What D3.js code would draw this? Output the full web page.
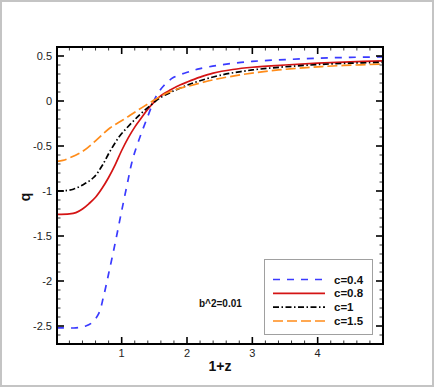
<!DOCTYPE html>
<html>
<head>
<meta charset="utf-8">
<script src="https://cdn.jsdelivr.net/npm/d3@7"></script>
<style>
  body { margin: 0; background: #fff; }
  svg { font-family: "Liberation Sans", Arial, sans-serif; }
  .tick-label { font-size: 11px; fill: #222; }
  .title { font-size: 14px; font-weight: bold; fill: #111; }
  .legend text { font-size: 11.5px; font-weight: bold; fill: #111; }
</style>
</head>
<body>
<script>
  // c = 0.4
  let blueX = [0.01, 0.3, 0.45, 0.55, 0.65, 0.72, 0.8, 0.9, 1.0, 1.1, 1.15, 1.2, 1.3, 1.4, 1.48, 1.55, 1.64, 1.79, 2.05, 2.2, 2.5, 3.0, 3.5, 4.0, 4.5, 5.0];
  let blueQ = [-2.52, -2.52, -2.5, -2.46, -2.36, -2.18, -1.92, -1.58, -1.22, -0.87, -0.7, -0.57, -0.36, -0.17, -0.02, 0.08, 0.167, 0.26, 0.33, 0.36, 0.40, 0.44, 0.46, 0.475, 0.485, 0.49];
  // c = 0.8
  let redX = [0.01, 0.2, 0.3, 0.4, 0.5, 0.6, 0.7, 0.8, 0.9, 1.0, 1.1, 1.2, 1.3, 1.4, 1.5, 1.6, 1.75, 1.9, 2.0, 2.2, 2.4, 2.7, 3.0, 3.5, 4.0, 4.5, 5.0];
  let redQ = [-1.26, -1.255, -1.24, -1.2, -1.14, -1.07, -0.97, -0.85, -0.71, -0.55, -0.41, -0.29, -0.19, -0.09, -0.01, 0.06, 0.125, 0.18, 0.21, 0.265, 0.31, 0.35, 0.375, 0.40, 0.42, 0.435, 0.445];
  // c = 1
  let blackX = [0.01, 0.15, 0.26, 0.41, 0.57, 0.7, 0.82, 0.97, 1.13, 1.28, 1.43, 1.59, 1.79, 2.0, 2.2, 2.5, 3.0, 3.5, 4.0, 4.5, 5.0];
  let blackQ = [-1.0, -0.995, -0.98, -0.93, -0.85, -0.72, -0.56, -0.39, -0.26, -0.15, -0.055, 0.035, 0.11, 0.175, 0.225, 0.285, 0.345, 0.38, 0.405, 0.42, 0.43];
  // c = 1.5
  let orangeX = [0.01, 0.1, 0.21, 0.41, 0.62, 0.82, 1.03, 1.23, 1.43, 1.64, 1.84, 2.05, 2.4, 2.9, 3.4, 3.9, 4.4, 5.0];
  let orangeQ = [-0.67, -0.66, -0.63, -0.556, -0.43, -0.30, -0.205, -0.11, -0.02, 0.07, 0.13, 0.17, 0.235, 0.30, 0.345, 0.375, 0.395, 0.41];

  let xTicks = [1, 2, 3, 4];
  let yTicks = [0.5, 0, -0.5, -1, -1.5, -2, -2.5];
  let yTickLabels = ['0.5', '0', '-0.5', '-1', '-1.5', '-2', '-2.5'];
  let seriesNames = ['c=0.4', 'c=0.8', 'c=1', 'c=1.5'];

  let series = [
    { name: seriesNames[0], xs: blueX, qs: blueQ, color: '#3a3aff', dash: '7,7', width: 1.7 },
    { name: seriesNames[1], xs: redX, qs: redQ, color: '#d41414', dash: null, width: 1.7 },
    { name: seriesNames[2], xs: blackX, qs: blackQ, color: '#000', dash: '6,2.5,1.5,2.5', width: 1.7 },
    { name: seriesNames[3], xs: orangeX, qs: orangeQ, color: '#ff8c1a', dash: '10,4', width: 1.7 }
  ];

  let margin = { top: 47, right: 53, bottom: 44, left: 57 };
  let W = 436, H = 388;
  let width = W - margin.left - margin.right;
  let height = H - margin.top - margin.bottom;

  let svg = d3.select('body').append('svg')
    .attr('width', W)
    .attr('height', H);

  // outer frame
  svg.append('rect')
    .attr('x', 1).attr('y', 1)
    .attr('width', 432).attr('height', 385)
    .attr('fill', 'none')
    .attr('stroke', '#c4c4c4')
    .attr('stroke-width', 2);

  let g = svg.append('g')
    .attr('transform', 'translate(' + margin.left + ',' + margin.top + ')');

  let x = d3.scaleLinear().domain([0.01, 5]).range([0, width]);
  let y = d3.scaleLinear().domain([-2.7, 0.6]).range([height, 0]);

  g.append('clipPath').attr('id', 'clip')
    .append('rect').attr('width', width).attr('height', height);

  let line = d3.line()
    .x(function(d) { return x(d[0]); })
    .y(function(d) { return y(d[1]); })
    .curve(d3.curveCatmullRom);

  let lines = g.append('g').attr('clip-path', 'url(#clip)');
  series.forEach(function(s) {
    let pts = s.xs.map(function(v, i) { return [v, s.qs[i]]; });
    lines.append('path')
      .datum(pts)
      .attr('fill', 'none')
      .attr('stroke', s.color)
      .attr('stroke-width', s.width)
      .attr('stroke-dasharray', s.dash)
      .attr('d', line);
  });

  // ticks on all four sides, pointing inward
  let majorLen = 7, minorLen = 3.5;
  let xMinor = d3.range(0.2, 5, 0.2).filter(function(v) {
    return Math.abs(v - Math.round(v)) > 1e-6;
  });
  let yMinor = d3.range(-2.7, 0.6, 0.1).map(function(v) { return Math.round(v * 10) / 10; })
    .filter(function(v) { return Math.abs(v * 2 - Math.round(v * 2)) > 1e-6; });

  let tickG = g.append('g').attr('stroke', '#000');

  function xTick(v, len, sw) {
    tickG.append('line').attr('x1', x(v)).attr('x2', x(v))
      .attr('y1', height).attr('y2', height - len).attr('stroke-width', sw);
    tickG.append('line').attr('x1', x(v)).attr('x2', x(v))
      .attr('y1', 0).attr('y2', len).attr('stroke-width', sw);
  }
  function yTick(v, len, sw) {
    tickG.append('line').attr('y1', y(v)).attr('y2', y(v))
      .attr('x1', 0).attr('x2', len).attr('stroke-width', sw);
    tickG.append('line').attr('y1', y(v)).attr('y2', y(v))
      .attr('x1', width).attr('x2', width - len).attr('stroke-width', sw);
  }
  xMinor.forEach(function(v) { xTick(v, minorLen, 0.8); });
  yMinor.forEach(function(v) { yTick(v, minorLen, 0.8); });
  xTicks.forEach(function(v) { xTick(v, majorLen, 1.6); });
  yTicks.forEach(function(v) { yTick(v, majorLen, 1.6); });

  g.append('rect')
    .attr('width', width).attr('height', height)
    .attr('fill', 'none')
    .attr('stroke', '#000')
    .attr('stroke-width', 2);

  // tick labels
  g.selectAll('.xl').data(xTicks).enter().append('text')
    .attr('class', 'tick-label')
    .attr('x', function(d) { return x(d); })
    .attr('y', height + 13)
    .attr('text-anchor', 'middle')
    .text(function(d) { return d; });

  g.selectAll('.yl').data(yTicks).enter().append('text')
    .attr('class', 'tick-label')
    .attr('x', -5)
    .attr('y', function(d) { return y(d) + 4; })
    .attr('text-anchor', 'end')
    .text(function(d, i) { return yTickLabels[i]; });

  // axis titles
  svg.append('text').attr('class', 'title')
    .attr('x', 220).attr('y', 371)
    .attr('text-anchor', 'middle')
    .text('1+z');

  svg.append('text').attr('class', 'title')
    .attr('transform', 'translate(30,197) rotate(-90)')
    .attr('text-anchor', 'middle')
    .text('q');

  // annotation
  svg.append('text')
    .attr('x', 199).attr('y', 307)
    .attr('font-size', '10px').attr('font-weight', 'bold').attr('fill', '#111')
    .text('b^2=0.01');

  // legend
  let legend = svg.append('g').attr('class', 'legend');
  legend.append('rect')
    .attr('x', 264.5).attr('y', 259.5)
    .attr('width', 108).attr('height', 75)
    .attr('fill', '#fff')
    .attr('stroke', '#a0a0a0')
    .attr('stroke-width', 1);

  let rowY = d3.scalePoint().domain(seriesNames).range([279.5, 321]);
  series.forEach(function(s) {
    let yy = rowY(s.name);
    legend.append('line')
      .attr('x1', 273).attr('x2', 325)
      .attr('y1', yy).attr('y2', yy)
      .attr('stroke', s.color)
      .attr('stroke-width', s.width)
      .attr('stroke-dasharray', s.dash);
    legend.append('text')
      .attr('x', 334).attr('y', yy + 4)
      .text(s.name);
  });
</script>
</body>
</html>
